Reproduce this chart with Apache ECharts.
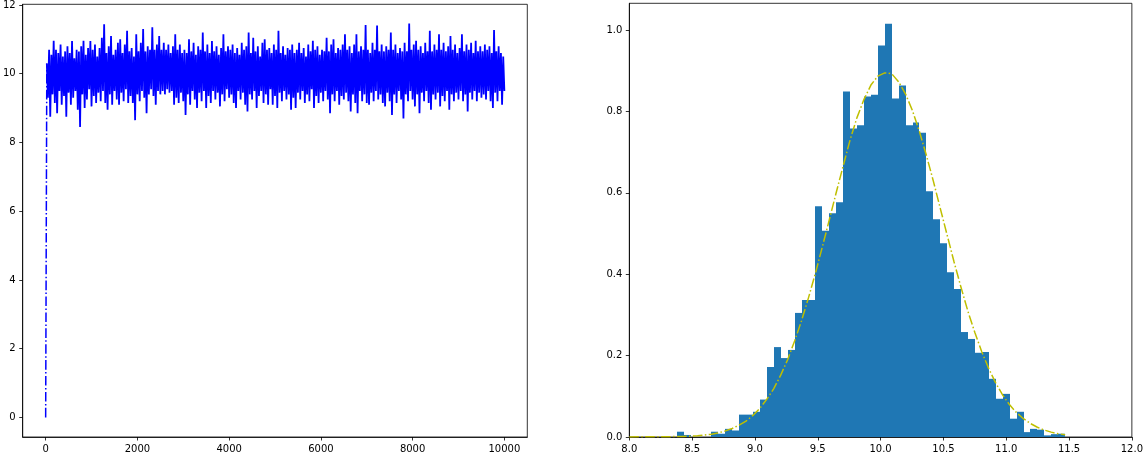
<!DOCTYPE html>
<html>
<head>
<meta charset="utf-8">
<script src="https://cdn.jsdelivr.net/npm/echarts@6/dist/echarts.min.js"></script>
<style>
html,body{margin:0;padding:0;background:#fff;}
#chart{width:1146px;height:454px;}
</style>
</head>
<body>
<div id="chart"></div>
<script>
const traceStep = 25;
const traceValues = [0.0,
  10.3,9.3, 10.7,8.75, 10.55,9.4, 10.96,9.15, 10.7,8.85, 10.6,9.5, 10.85,9.1, 10.5,9.35, 10.65,8.75, 10.8,9.45,
  10.6,9.1, 10.95,9.3, 10.45,9.5, 10.7,8.95, 10.65,8.45, 10.8,9.4, 10.96,9.0, 10.55,9.25, 10.75,9.55, 10.95,9.05,
  10.7,9.35, 10.85,9.15, 10.5,9.45, 10.75,9.2, 11.05,9.5, 11.44,9.15, 10.6,8.95, 10.8,9.4, 11.1,9.1, 10.55,9.5,
  10.7,9.25, 10.9,9.1, 11.0,9.45, 10.6,9.2, 10.85,9.55, 11.25,9.15, 10.65,9.35, 10.75,9.15, 10.5,8.65, 11.15,9.4,
  10.65,9.2, 10.9,9.5, 11.3,9.3, 10.65,8.85, 10.8,9.4, 10.7,9.55, 11.35,9.35, 10.7,9.1, 10.85,9.5, 11.1,9.4,
  10.7,9.5, 10.9,9.4, 10.7,9.55, 10.85,9.45, 10.6,9.5, 10.8,9.1, 11.15,9.3, 10.7,9.15, 10.85,9.45, 10.6,9.2,
  10.7,8.8, 10.6,9.4, 11.0,9.1, 10.65,9.5, 10.9,9.25, 10.55,9.0, 10.8,9.45, 10.7,9.2, 11.2,9.5, 10.65,9.0,
  10.85,9.35, 10.6,9.15, 10.95,9.5, 10.65,9.25, 10.8,9.45, 10.55,9.05, 10.75,9.4, 11.15,9.2, 10.65,9.55, 10.8,9.3,
  10.7,9.4, 10.85,9.15, 10.6,9.0, 10.75,9.5, 10.55,9.25, 10.9,9.45, 10.7,9.1, 10.8,8.9, 11.2,9.4, 10.6,9.25,
  11.05,9.5, 10.65,9.0, 10.8,9.35, 10.5,9.5, 10.9,9.15, 11.0,9.4, 10.7,9.1, 10.75,9.55, 10.6,9.1, 10.85,9.35,
  10.7,9.0, 11.25,9.45, 10.6,9.2, 10.8,9.5, 10.55,9.25, 10.75,9.4, 10.7,8.95, 10.85,9.3, 10.6,9.0, 10.7,9.45,
  10.9,9.25, 10.6,9.5, 10.75,9.15, 10.5,9.4, 10.85,9.2, 10.65,9.55, 10.96,9.0, 10.7,9.35, 10.8,9.15, 10.55,9.45,
  10.7,9.2, 10.65,9.5, 11.05,9.25, 10.65,8.85, 10.85,9.4, 11.0,9.2, 10.6,9.5, 10.75,9.1, 10.7,9.35, 10.85,9.25,
  11.15,9.45, 10.7,9.2, 10.8,8.9, 10.6,9.4, 10.85,9.15, 11.15,8.85, 10.65,9.5, 10.8,9.2, 10.7,9.4, 11.42,9.15,
  10.7,9.1, 10.6,9.45, 10.9,9.2, 10.7,9.5, 11.4,9.25, 10.65,9.4, 10.85,9.15, 10.65,9.05, 10.8,9.45, 10.7,9.2,
  11.2,8.8, 10.7,9.4, 10.85,9.15, 10.6,9.5, 10.75,9.25, 10.65,8.7, 10.9,9.4, 10.65,9.2, 11.46,9.5, 10.7,9.25,
  10.85,9.05, 10.96,9.4, 10.7,8.85, 10.8,9.45, 10.6,9.2, 10.9,9.5, 10.65,9.15, 11.25,8.95, 10.65,9.4, 10.85,9.25,
  10.7,9.45, 11.15,9.05, 10.7,9.35, 10.9,9.2, 10.65,9.5, 10.8,8.95, 11.1,9.4, 10.7,9.2, 10.85,9.45, 10.6,9.25,
  10.75,9.5, 11.15,9.2, 10.65,9.4, 10.85,8.9, 10.7,9.45, 10.9,9.25, 10.6,9.5, 10.96,9.2, 10.65,9.45, 10.8,9.3,
  10.65,9.4, 10.85,9.25, 10.7,9.5, 10.8,9.2, 10.6,9.0, 11.27,9.45, 10.65,9.2, 10.8,9.5, 10.6,9.1, 10.5,9.5
];
const traceXTicks = [0, 2000, 4000, 6000, 8000, 10000];
const traceYTicks = [0, 2, 4, 6, 8, 10, 12];

// ---- Histogram (right panel) ----
const binStart = 8.377;
const binWidth = 0.05521;
const binHeights = [
  0.013, 0.005, 0, 0, 0, 0.013, 0.008, 0.020, 0.016, 0.055,
  0.055, 0.062, 0.092, 0.172, 0.221, 0.194, 0.214, 0.305, 0.337, 0.337,
  0.567, 0.507, 0.550, 0.577, 0.849, 0.758, 0.766, 0.837, 0.841, 0.962,
  1.016, 0.832, 0.864, 0.766, 0.773, 0.748, 0.604, 0.535, 0.476, 0.405,
  0.364, 0.258, 0.241, 0.207, 0.209, 0.143, 0.094, 0.106, 0.045, 0.062,
  0.012, 0.020, 0.018, 0.004, 0.007, 0.008
];
// fitted density curve
const pdfX = [8.0, 8.377, 8.432, 8.487, 8.543, 8.598, 8.653, 8.708, 8.764, 8.819, 8.874,
  8.929, 8.984, 9.040, 9.095, 9.150, 9.205, 9.260, 9.316, 9.371, 9.426,
  9.481, 9.536, 9.592, 9.647, 9.702, 9.757, 9.812, 9.868, 9.923, 9.978,
  10.033, 10.088, 10.144, 10.199, 10.254, 10.309, 10.364, 10.420, 10.475, 10.530,
  10.585, 10.640, 10.696, 10.751, 10.806, 10.861, 10.916, 10.972, 11.027, 11.082,
  11.137, 11.193, 11.248, 11.303, 11.358, 11.413, 11.469];
const pdfY = [0.0003, 0.001, 0.0013, 0.002, 0.003, 0.005, 0.007, 0.010, 0.015, 0.021, 0.029,
  0.039, 0.053, 0.071, 0.093, 0.119, 0.152, 0.190, 0.236, 0.286, 0.342,
  0.402, 0.467, 0.534, 0.601, 0.666, 0.730, 0.785, 0.830, 0.865, 0.887,
  0.895, 0.893, 0.873, 0.843, 0.802, 0.751, 0.693, 0.629, 0.562, 0.496,
  0.430, 0.368, 0.308, 0.256, 0.209, 0.168, 0.133, 0.103, 0.079, 0.060,
  0.045, 0.033, 0.024, 0.017, 0.012, 0.008, 0.0055];
const histXTicks = [8.0, 8.5, 9.0, 9.5, 10.0, 10.5, 11.0, 11.5, 12.0];
const histYTicks = [0.0, 0.2, 0.4, 0.6, 0.8, 1.0];

// ---- build ----
const traceData = traceValues.map((v, i) => [i * traceStep, v]);
const traceStart = traceData.slice(0, 2);   // burn-in jump, dash-dot visible
const traceBand = traceData.slice(1);       // dense part
const histData = binHeights.map((h, i) => [binStart + i * binWidth, binStart + (i + 1) * binWidth, h]);
const pdfData = pdfX.map((x, i) => [x, pdfY[i]]);

const FONT = 'DejaVu Sans';
const DASHDOT = [9.6, 2.4, 1.5, 2.4];
function axisBase(ticks, fmt) {
  return {
    axisLine: {show: true, onZero: false, lineStyle: {color: '#000', width: 0.8}},
    axisTick: {show: true, inside: false, length: 3.5, customValues: ticks, lineStyle: {color: '#000', width: 0.8}},
    axisLabel: {show: true, customValues: ticks, fontSize: 10, color: '#000', fontFamily: FONT, margin: 7,
      formatter: fmt},
    splitLine: {show: false}
  };
}

const chart = echarts.init(document.getElementById('chart'), null, {renderer: 'canvas'});
chart.setOption({
  animation: false,
  backgroundColor: '#fff',
  grid: [
    {left: 20.7, top: 3.3, width: 506.6, height: 434.7, show: true, borderColor: '#000', borderWidth: 0.8, backgroundColor: 'transparent'},
    {left: 629.3, top: 3.3, width: 507, height: 435, show: true, borderColor: '#000', borderWidth: 0.8, backgroundColor: 'transparent'}
  ],
  xAxis: [
    Object.assign({type: 'value', gridIndex: 0, min: -500, max: 10500}, axisBase(traceXTicks, v => String(v))),
    Object.assign({type: 'value', gridIndex: 1, min: 8, max: 12}, axisBase(histXTicks, v => v.toFixed(1)))
  ],
  yAxis: [
    Object.assign({type: 'value', gridIndex: 0, min: -0.57, max: 12.02}, axisBase(traceYTicks, v => String(v))),
    Object.assign({type: 'value', gridIndex: 1, min: 0, max: 1.066}, axisBase(histYTicks, v => v.toFixed(1)))
  ],
  series: [
    {
      type: 'line', xAxisIndex: 0, yAxisIndex: 0, data: traceStart,
      showSymbol: false, symbol: 'none', silent: true,
      lineStyle: {color: '#0000ff', width: 1.5, type: DASHDOT}
    },
    {
      type: 'line', xAxisIndex: 0, yAxisIndex: 0, data: traceBand,
      showSymbol: false, symbol: 'none', silent: true,
      lineStyle: {color: '#0000ff', width: 1.8, type: 'solid'}
    },
    {
      type: 'custom', xAxisIndex: 1, yAxisIndex: 1, data: histData, silent: true,
      encode: {x: [0, 1], y: 2},
      renderItem: function (params, api) {
        const p0 = api.coord([api.value(0), api.value(2)]);
        const p1 = api.coord([api.value(1), 0]);
        const x0 = Math.round(p0[0]), x1 = Math.round(p1[0]);
        return {
          type: 'rect',
          shape: {x: x0, y: p0[1], width: x1 - x0, height: p1[1] - p0[1]},
          style: {fill: '#1f77b4'}
        };
      }
    },
    {
      type: 'line', xAxisIndex: 1, yAxisIndex: 1, data: pdfData, z: 5,
      showSymbol: false, symbol: 'none', silent: true,
      lineStyle: {color: '#bfbf00', width: 1.5, type: DASHDOT}
    }
  ]
});
</script>
</body>
</html>
